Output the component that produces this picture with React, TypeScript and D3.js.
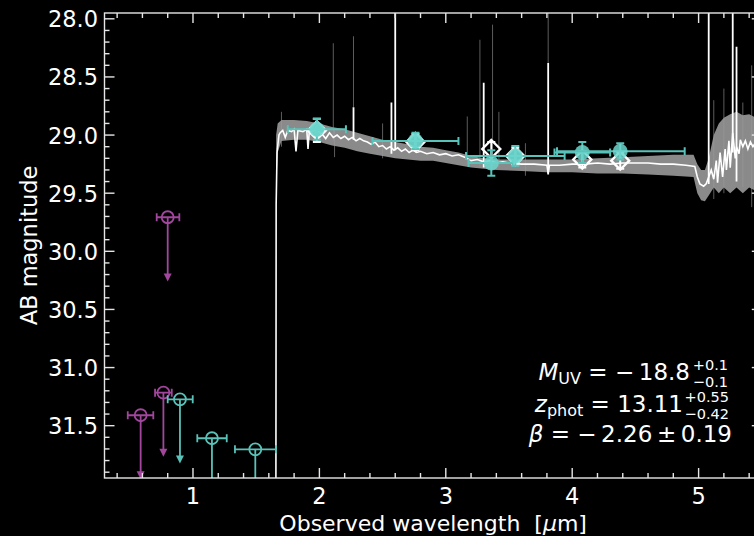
import React from 'react';
import * as d3 from 'd3';

// spectrum: observed wavelength [um] and AB magnitude
const specLam = [1.656, 1.658, 1.665, 1.68, 1.69, 1.71, 1.73, 1.75, 1.78, 1.80, 1.815, 1.83, 1.87, 1.90, 1.91, 1.92, 1.96, 1.99, 2.02, 2.05, 2.08, 2.11, 2.14, 2.17, 2.20, 2.23, 2.26, 2.29, 2.32, 2.35, 2.38, 2.41, 2.44, 2.47, 2.50, 2.53, 2.56, 2.59, 2.62, 2.65, 2.68, 2.71, 2.74, 2.77, 2.80, 2.85, 2.90, 2.95, 3.00, 3.05, 3.10, 3.15, 3.20, 3.25, 3.30, 3.35, 3.40, 3.45, 3.50, 3.60, 3.70, 3.80, 3.81, 3.82, 3.90, 4.00, 4.10, 4.20, 4.30, 4.40, 4.50, 4.60, 4.70, 4.80, 4.90, 4.97, 4.99, 5.01, 5.04, 5.06, 5.08, 5.10, 5.12, 5.14, 5.15, 5.17, 5.19, 5.21, 5.22, 5.24, 5.25, 5.27, 5.29, 5.30, 5.32, 5.33, 5.35, 5.37, 5.39, 5.41, 5.43, 5.46, 5.50];
const specMag = [32.1, 29.6, 29.15, 29.0, 28.98, 28.96, 29.02, 28.96, 28.97, 28.95, 29.14, 28.96, 28.97, 28.95, 29.12, 28.97, 28.96, 28.97, 28.99, 29.03, 28.98, 29.02, 29.0, 29.03, 29.01, 29.04, 29.02, 29.05, 29.03, 29.05, 29.06, 29.08, 29.06, 29.1, 29.09, 29.12, 29.1, 29.13, 29.11, 29.14, 29.12, 29.15, 29.13, 29.15, 29.14, 29.16, 29.15, 29.17, 29.16, 29.18, 29.17, 29.19, 29.22, 29.21, 29.23, 29.22, 29.24, 29.23, 29.24, 29.25, 29.25, 29.26, 29.33, 29.26, 29.26, 29.25, 29.25, 29.24, 29.25, 29.24, 29.24, 29.24, 29.25, 29.25, 29.26, 29.27, 29.36, 29.42, 29.44, 29.42, 29.36, 29.3, 29.38, 29.22, 29.41, 29.15, 29.36, 29.12, 29.3, 29.05, 29.28, 28.98, 29.2, 29.1, 29.16, 29.04, 29.1, 29.05, 29.12, 29.06, 29.1, 29.05, 29.08];

// uncertainty band of the spectrum
const bandLam = [1.658, 1.67, 1.70, 1.80, 1.90, 2.00, 2.10, 2.20, 2.30, 2.40, 2.50, 2.60, 2.70, 2.80, 2.90, 3.00, 3.10, 3.20, 3.30, 3.40, 3.60, 3.80, 4.00, 4.20, 4.40, 4.60, 4.80, 4.96, 4.99, 5.02, 5.05, 5.08, 5.12, 5.16, 5.20, 5.25, 5.30, 5.35, 5.40, 5.45, 5.50];
const bandHi = [29.0, 28.9, 28.87, 28.87, 28.88, 28.9, 28.93, 28.95, 28.98, 29.01, 29.04, 29.06, 29.08, 29.1, 29.11, 29.13, 29.15, 29.18, 29.2, 29.21, 29.21, 29.21, 29.21, 29.2, 29.19, 29.18, 29.17, 29.17, 29.25, 29.3, 29.3, 29.2, 29.0, 28.9, 28.85, 28.82, 28.8, 28.83, 28.82, 28.85, 28.85];
const bandLo = [29.5, 29.15, 29.05, 29.04, 29.04, 29.06, 29.09, 29.11, 29.14, 29.16, 29.18, 29.2, 29.21, 29.22, 29.22, 29.24, 29.26, 29.28, 29.29, 29.3, 29.31, 29.32, 29.32, 29.33, 29.33, 29.34, 29.35, 29.36, 29.5, 29.56, 29.57, 29.52, 29.45, 29.5, 29.45, 29.5, 29.45, 29.5, 29.45, 29.48, 29.45];

// emission/noise spikes in the spectrum
const brightSpikeLam = [2.27, 2.57, 2.60, 3.30, 3.81, 5.08, 5.27, 5.30];
const brightSpikeTop = [28.76, 28.72, 27.90, 28.55, 28.38, 27.90, 27.90, 28.24];
const brightSpikeBot = [29.04, 29.16, 29.13, 29.28, 29.34, 29.42, 29.15, 29.40];
const faintSpikeLam = [1.70, 2.11, 2.12, 2.27, 2.50, 3.17, 3.27, 3.37, 3.42, 3.63, 3.81, 5.12, 5.20, 5.35, 5.42];
const faintSpikeTop = [28.80, 28.21, 28.95, 28.15, 28.90, 28.84, 28.18, 28.05, 28.80, 29.07, 27.90, 28.70, 28.60, 28.72, 28.40];
const faintSpikeBot = [29.10, 29.05, 29.19, 28.76, 29.20, 29.25, 29.28, 29.30, 29.28, 29.35, 28.38, 29.55, 29.50, 29.45, 29.62];

// observed photometry (cyan)
const obsLam = [1.98, 2.76, 3.36, 3.55, 4.08, 4.38];
const obsMag = [28.95, 29.05, 29.24, 29.18, 29.15, 29.14];
const obsErr = [0.09, 0.07, 0.11, 0.085, 0.09, 0.07];
const obsLamLo = [1.75, 2.42, 3.18, 3.16, 3.86, 3.88];
const obsLamHi = [2.21, 3.10, 3.53, 3.94, 4.30, 4.89];

// model photometry (white diamonds)
const modelLam = [1.98, 2.76, 3.36, 3.55, 4.08, 4.38];
const modelMag = [28.96, 29.06, 29.12, 29.18, 29.21, 29.22];
const modelErr = [0.10, 0.07, 0.06, 0.07, 0.07, 0.07];

// upper limits
const limLamPurple = [0.586, 0.766, 0.80];
const limMagPurple = [31.41, 31.216, 29.707];
const limLoPurple = [0.484, 0.70, 0.713];
const limHiPurple = [0.686, 0.832, 0.892];
const limLamTeal = [0.897, 1.15, 1.493];
const limMagTeal = [31.273, 31.608, 31.703];
const limLoTeal = [0.80, 1.034, 1.332];
const limHiTeal = [0.998, 1.267, 1.657];

const xTicks = [1, 2, 3, 4, 5];
const yTicks = [28.0, 28.5, 29.0, 29.5, 30.0, 30.5, 31.0, 31.5];

const FONT = 'DejaVu Sans, sans-serif';
const AXIS = '#e6e6e6';
const TEAL = '#59c2b9';
const TEAL_FILL = '#6bd6cd';
const PURPLE = '#a2469e';
const BAND = '#8a8a8a';

const PL = 104.5, PR = 761.8, PT = 13, PB = 478;
const x = d3.scaleLinear().domain([0.3, 5.5]).range([PL, PR]);
const y = d3.scaleLinear().domain([27.95, 31.95]).range([PT, PB]);

const diamond = (r: number) => `M0,${-r}L${r},0L0,${r}L${-r},0Z`;
const THIN = '\u2009';

const UpperLimits = ({ lam, mag, lo, hi, color }: any) => (
  <g stroke={color} strokeWidth={1.8} fill="none">
    {lam.map((l: number, i: number) => {
      const cx = x(l), cy = y(mag[i]), ey = y(mag[i] + 0.5);
      return (
        <g key={i}>
          <line x1={x(lo[i])} x2={x(hi[i])} y1={cy} y2={cy} />
          <line x1={x(lo[i])} x2={x(lo[i])} y1={cy - 4} y2={cy + 4} />
          <line x1={x(hi[i])} x2={x(hi[i])} y1={cy - 4} y2={cy + 4} />
          <line x1={cx} x2={cx} y1={cy} y2={ey} />
          <path d={`M${cx - 4},${ey - 2}L${cx + 4},${ey - 2}L${cx},${ey + 6}Z`} fill={color} stroke="none" />
          <circle cx={cx} cy={cy} r={6} />
        </g>
      );
    })}
  </g>
);

export default function App() {
  const specLine = d3.line<number>().x((_, i) => x(specLam[i])).y((m) => y(m));
  const band = d3.area<number>()
    .x((_, i) => x(bandLam[i]))
    .y0((_, i) => y(bandLo[i]))
    .y1((m) => y(m));
  const xMinor = d3.range(0.4, 5.45, 0.2).filter((v) => Math.abs(v - Math.round(v)) > 0.01);
  const yMinor = d3.range(28.0, 31.95, 0.1).filter((v) => Math.abs(v * 2 - Math.round(v * 2)) > 0.01);

  return (
    <svg width={754} height={536} style={{ position: 'absolute', left: 0, top: 0, display: 'block', background: '#000' }} fontFamily={FONT}>
      <rect width={754} height={536} fill="#000" />
      <defs>
        <clipPath id="plot"><rect x={PL} y={PT} width={PR - PL} height={PB - PT} /></clipPath>
      </defs>
      <g clipPath="url(#plot)">
        <path d={band(bandHi) || ''} fill={BAND} />
        {faintSpikeLam.map((l, i) => (
          <line key={i} x1={x(l)} x2={x(l)} y1={y(faintSpikeTop[i])} y2={y(faintSpikeBot[i])} stroke="#9a9a9a" strokeWidth={1} opacity={0.6} />
        ))}
        <path d={specLine(specMag) || ''} fill="none" stroke="#fff" strokeWidth={1.6} />
        {brightSpikeLam.map((l, i) => (
          <line key={i} x1={x(l)} x2={x(l)} y1={y(brightSpikeTop[i])} y2={y(brightSpikeBot[i])} stroke="#fff" strokeWidth={1.8} />
        ))}
        <UpperLimits lam={limLamPurple} mag={limMagPurple} lo={limLoPurple} hi={limHiPurple} color={PURPLE} />
        <UpperLimits lam={limLamTeal} mag={limMagTeal} lo={limLoTeal} hi={limHiTeal} color={TEAL} />
        {/* model photometry */}
        {modelLam.map((l, i) => {
          const cx = x(l), cy = y(modelMag[i]);
          return (
            <g key={i} stroke="#fff" strokeWidth={2} fill="none">
              <line x1={cx} x2={cx} y1={y(modelMag[i] - modelErr[i])} y2={y(modelMag[i] + modelErr[i])} />
              <line x1={cx - 4} x2={cx + 4} y1={y(modelMag[i] - modelErr[i])} y2={y(modelMag[i] - modelErr[i])} />
              <line x1={cx - 4} x2={cx + 4} y1={y(modelMag[i] + modelErr[i])} y2={y(modelMag[i] + modelErr[i])} />
              <path d={diamond(9)} transform={`translate(${cx},${cy})`} strokeWidth={2.4} />
            </g>
          );
        })}
        {/* observed photometry */}
        {obsLam.map((l, i) => {
          const cx = x(l), cy = y(obsMag[i]);
          const yTop = y(obsMag[i] - obsErr[i]), yBot = y(obsMag[i] + obsErr[i]);
          const onModel = Math.abs(modelMag[i] - obsMag[i]) < 0.03;
          return (
            <g key={i}>
              <g stroke={TEAL} strokeWidth={2}>
                <line x1={x(obsLamLo[i])} x2={x(obsLamHi[i])} y1={cy} y2={cy} />
                <line x1={x(obsLamLo[i])} x2={x(obsLamLo[i])} y1={cy - 4} y2={cy + 4} />
                <line x1={x(obsLamHi[i])} x2={x(obsLamHi[i])} y1={cy - 4} y2={cy + 4} />
                <line x1={cx} x2={cx} y1={yTop} y2={yBot} />
                <line x1={cx - 4} x2={cx + 4} y1={yTop} y2={yTop} />
                <line x1={cx - 4} x2={cx + 4} y1={yBot} y2={yBot} />
              </g>
              {onModel && <path d={diamond(8)} transform={`translate(${cx},${cy})`} fill={TEAL_FILL} opacity={0.7} />}
              <circle cx={cx} cy={cy} r={7.5} fill={TEAL_FILL} opacity={0.85} />
            </g>
          );
        })}
      </g>

      {/* axes frame */}
      <g stroke={AXIS} strokeWidth={1.4} fill="none">
        <rect x={PL} y={PT} width={PR - PL} height={PB - PT} />
        {xTicks.map((t) => (
          <g key={t}>
            <line x1={x(t)} x2={x(t)} y1={PB} y2={PB - 10} />
            <line x1={x(t)} x2={x(t)} y1={PT} y2={PT + 10} />
          </g>
        ))}
        {xMinor.map((t) => (
          <g key={t}>
            <line x1={x(t)} x2={x(t)} y1={PB} y2={PB - 5} />
            <line x1={x(t)} x2={x(t)} y1={PT} y2={PT + 5} />
          </g>
        ))}
        {yTicks.map((t) => (
          <g key={t}>
            <line x1={PL} x2={PL + 10} y1={y(t)} y2={y(t)} />
            <line x1={PR} x2={PR - 10} y1={y(t)} y2={y(t)} />
          </g>
        ))}
        {yMinor.map((t) => (
          <g key={t}>
            <line x1={PL} x2={PL + 5} y1={y(t)} y2={y(t)} />
            <line x1={PR} x2={PR - 5} y1={y(t)} y2={y(t)} />
          </g>
        ))}
      </g>
      <g fill="#fff" fontSize={22.5}>
        {xTicks.map((t) => (
          <text key={t} x={x(t)} y={504} textAnchor="middle">{t}</text>
        ))}
        {yTicks.map((t) => (
          <text key={t} x={98} y={y(t) + 8.5} textAnchor="end">{t.toFixed(1)}</text>
        ))}
        <text transform={`translate(37,${(PT + PB) / 2}) rotate(-90)`} textAnchor="middle">AB magnitude</text>
        <text x={(PL + PR) / 2} y={530.5} textAnchor="middle" fontSize={22}>
          Observed wavelength{'\u00a0\u00a0'}[<tspan fontStyle="italic">μ</tspan>m]
        </text>
      </g>

      {/* annotation */}
      <g fill="#fff">
        <text x={728 - 38} y={380} textAnchor="end" fontSize={23}>
          <tspan fontStyle="italic">M</tspan>
          <tspan fontSize={16} dy={4}>UV</tspan>
          <tspan dy={-4}>{` = −${THIN}18.8`}</tspan>
        </text>
        <text x={728} y={370} textAnchor="end" fontSize={14.5}>+0.1</text>
        <text x={728} y={387} textAnchor="end" fontSize={14.5}>−0.1</text>

        <text x={729 - 46} y={412} textAnchor="end" fontSize={23}>
          <tspan fontStyle="italic">z</tspan>
          <tspan fontSize={16} dy={4}>phot</tspan>
          <tspan dy={-4}> = 13.11</tspan>
        </text>
        <text x={729} y={402} textAnchor="end" fontSize={14.5}>+0.55</text>
        <text x={729} y={419} textAnchor="end" fontSize={14.5}>−0.42</text>

        <text x={732} y={442} textAnchor="end" fontSize={23}>
          <tspan fontStyle="italic">β</tspan>{` = −${THIN}2.26${THIN}±${THIN}0.19`}
        </text>
      </g>
    </svg>
  );
}
